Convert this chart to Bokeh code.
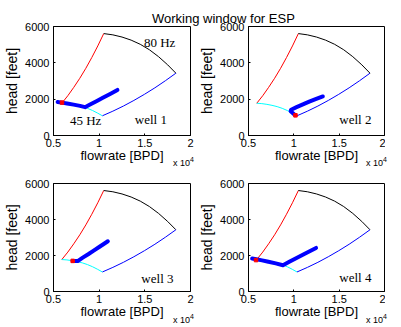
from bokeh.plotting import figure
from bokeh.layouts import column, row
from bokeh.models import Div, Label, Range1d, FixedTicker
from bokeh.embed import file_html
from bokeh.resources import INLINE

# ---------------- data (flowrate in BPD, head in feet) ----------------
x_ticks = [5000, 10000, 15000, 20000]
x_tick_labels = ["0.5", "1", "1.5", "2"]
y_ticks = [0, 2000, 4000, 6000]

# 80 Hz pump curve (black)
q80 = [10500, 11500, 12500, 13500, 14500, 15500, 16500, 17500, 18400]
h80 = [5610, 5540, 5420, 5250, 5020, 4720, 4340, 3890, 3430]
# 45 Hz pump curve (cyan)
q45 = [5910, 6470, 7030, 7590, 8160, 8720, 9280, 9840, 10350]
h45 = [1775, 1755, 1715, 1660, 1590, 1495, 1375, 1230, 1085]
# minimum-flow boundary (red)
qmin = [5910, 6570, 7220, 7880, 8540, 9190, 9850, 10500]
hmin = [1775, 2190, 2650, 3150, 3700, 4290, 4930, 5610]
# maximum-flow boundary (blue)
qmax = [10350, 11500, 12650, 13800, 14950, 16100, 17250, 18400]
hmax = [1085, 1340, 1620, 1930, 2265, 2625, 3015, 3430]

# operating-point trajectories
well1_q = [5450, 5900, 6500, 7200, 7900, 8450, 9000, 9700, 10400, 11200, 12000]
well1_h = [1840, 1810, 1765, 1700, 1630, 1560, 1705, 1890, 2080, 2290, 2510]
well2_q = [10150, 9900, 9650, 9700, 10300, 11000, 11700, 12400, 13200]
well2_h = [1120, 1230, 1340, 1420, 1560, 1710, 1860, 2000, 2150]
well3_q = [7100, 7350, 7650, 8200, 8800, 9400, 10000, 10500, 10950]
well3_h = [1700, 1690, 1690, 1880, 2070, 2270, 2470, 2640, 2790]
well4_q = [5400, 5850, 6500, 7200, 8000, 8800, 9500, 10300, 11100, 11800, 12450]
well4_h = [1830, 1790, 1730, 1650, 1560, 1460, 1650, 1860, 2070, 2250, 2420]

# initial points (red)
start_q = [5930, 10180, 7100, 5830]
start_h = [1810, 1110, 1700, 1745]

well_names = ["well 1", "well 2", "well 3", "well 4"]
well_label_q = [15660, 16790, 16380, 16790]
well_label_h = [880, 865, 735, 770]

title_text = "Working window for ESP"
x_label = "flowrate [BPD]"
y_label = "head [feet]"
x_mult = "x 10"
x_mult_exp = "4"

SANS = "Liberation Sans"
SERIF = "Liberation Serif"


def make_fig(i, wq, wh, width, height, bl, br, bt, bb, hz_labels=False):
    p = figure(width=width, height=height, title=None,
               x_range=Range1d(5000, 20000), y_range=Range1d(0, 6000),
               output_backend="svg", toolbar_location=None,
               min_border_left=bl, min_border_right=br,
               min_border_top=bt, min_border_bottom=bb)
    p.grid.visible = False
    p.outline_line_color = "black"
    p.outline_line_alpha = 1
    p.outline_line_width = 1
    p.background_fill_color = "white"
    p.border_fill_color = None

    for ax in (p.xaxis[0], p.yaxis[0]):
        ax.axis_line_color = "black"
        ax.major_tick_line_color = "black"
        ax.major_tick_in = 2
        ax.major_tick_out = 0
        ax.minor_tick_line_color = None
        ax.major_label_text_font = SANS
        ax.major_label_text_font_size = "11px"
        ax.major_label_text_color = "black"
        ax.axis_label_text_font = SANS
        ax.axis_label_text_font_style = "normal"
        ax.axis_label_text_color = "black"

    p.xaxis.ticker = FixedTicker(ticks=x_ticks)
    p.xaxis.major_label_overrides = {t: s for t, s in zip(x_ticks, x_tick_labels)}
    p.xaxis.major_label_standoff = 3
    p.xaxis.axis_label = x_label
    p.xaxis.axis_label_text_font_size = "13px"
    p.xaxis.axis_label_standoff = -2

    p.yaxis.ticker = FixedTicker(ticks=y_ticks)
    p.yaxis.major_label_standoff = 4
    p.yaxis.axis_label = y_label
    p.yaxis.axis_label_text_font_size = "14px"
    p.yaxis.axis_label_standoff = 2

    p.line(qmin, hmin, line_color="#ff0000", line_width=1)
    p.line(q80, h80, line_color="black", line_width=1)
    p.line(qmax, hmax, line_color="#0000ff", line_width=1)
    p.line(q45, h45, line_color="#00ffff", line_width=1)

    p.line(wq, wh, line_color="#0000ff", line_width=4,
           line_cap="round", line_join="round")
    p.scatter([start_q[i]], [start_h[i]], size=3.5, marker="square",
              fill_color="#ff0000", line_color="#ff0000")

    p.add_layout(Label(x=well_label_q[i], y=well_label_h[i], text=well_names[i],
                       text_font=SERIF, text_font_size="13px",
                       text_align="center", text_baseline="middle", text_color="black"))
    if hz_labels:
        p.add_layout(Label(x=16620, y=5120, text="80 Hz", text_font=SERIF,
                           text_font_size="13px", text_align="center",
                           text_baseline="middle", text_color="black"))
        p.add_layout(Label(x=8520, y=840, text="45 Hz", text_font=SERIF,
                           text_font_size="13px", text_align="center",
                           text_baseline="middle", text_color="black"))
    return p


# layout: page content 385 x 311 starting at (8, 8)
f1 = make_fig(0, well1_q, well1_h, 196, 160, 53, 6, 16, 35, hz_labels=True)
f2 = make_fig(1, well2_q, well2_h, 189, 160, 52, 1, 16, 35)
f3 = make_fig(2, well3_q, well3_h, 196, 151, 53, 6, 13, 29)
f4 = make_fig(3, well4_q, well4_h, 189, 151, 52, 1, 13, 29)


def abs_text(txt, left, top, size, lh):
    return ('<div style="position:absolute;left:%dpx;top:%dpx;white-space:nowrap;'
            'font-family:\'Liberation Sans\';font-size:%dpx;line-height:%dpx;'
            'color:black;z-index:10;">%s</div>' % (left, top, size, lh, txt))


overlay = ['<div style="position:relative;width:0;height:0;">',
           abs_text(title_text, 147, -6, 13, 15)]
for left in (168, 361):
    for top in (141, 298):
        overlay.append(abs_text(x_mult, left, top, 9, 11))
        overlay.append(abs_text(x_mult_exp, left + 17, top - 3, 7, 9))
overlay.append('</div>')

title = Div(text="".join(overlay), width=385, height=0)

layout = column(title, row(f1, f2), row(f3, f4))
open("out.html", "w").write(file_html(layout, INLINE))
